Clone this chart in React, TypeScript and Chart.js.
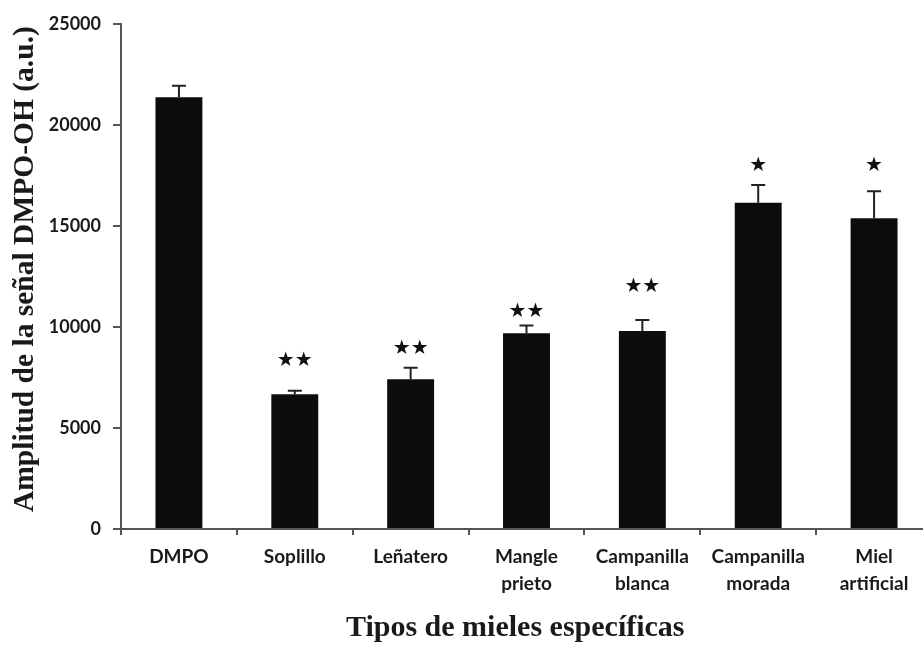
import React, { useEffect, useRef } from "react";
import { Chart, registerables } from "chart.js";

Chart.register(...registerables);

const categories = ["DMPO", "Soplillo", "Leñatero", "Mangle prieto", "Campanilla blanca", "Campanilla morada", "Miel artificial"];
const values = [21370, 6670, 7410, 9690, 9800, 16150, 15380];
const errors = [575, 180, 575, 380, 545, 875, 1340];
const sigMarks = ["", "★★", "★★", "★★", "★★", "★", "★"];
const sigY = [0, 8320, 8910, 10740, 11980, 17970, 17970];
const yTicks = [0, 5000, 10000, 15000, 20000, 25000];

const AXIS_COLOR = "#555555";
const TEXT_COLOR = "#1a1a1a";

const errorBarPlugin = {
  id: "errorBars",
  afterDatasetsDraw(chart: any) {
    const meta = chart.getDatasetMeta(0);
    const y = chart.scales.y;
    const ctx = chart.ctx;
    ctx.save();
    ctx.strokeStyle = "#222222";
    ctx.lineWidth = 2;
    meta.data.forEach((bar: any, i: number) => {
      const x = bar.x;
      const top = y.getPixelForValue(values[i]);
      const et = y.getPixelForValue(values[i] + errors[i]);
      ctx.beginPath();
      ctx.moveTo(x, top);
      ctx.lineTo(x, et);
      ctx.moveTo(x - 7, et);
      ctx.lineTo(x + 7, et);
      ctx.stroke();
      if (sigMarks[i]) {
        ctx.fillStyle = "#111111";
        ctx.font = "20px 'DejaVu Sans'";
        ctx.textAlign = "center";
        ctx.textBaseline = "middle";
        ctx.fillText(sigMarks[i], x, y.getPixelForValue(sigY[i]));
      }
    });
    ctx.restore();
  },
};

export default function App() {
  const ref = useRef<HTMLCanvasElement>(null);
  useEffect(() => {
    document.body.style.margin = "0";
    document.body.style.overflow = "hidden";
    const chart = new Chart(ref.current!, {
      type: "bar",
      data: {
        labels: categories.map((c) => c.split(" ")),
        datasets: [
          {
            data: values,
            backgroundColor: "#0c0c0c",
            borderWidth: 0,
            categoryPercentage: 1,
            barPercentage: 0.405,
          },
        ],
      },
      options: {
        animation: false,
        responsive: false,
        maintainAspectRatio: false,
        layout: { padding: { top: 24, right: 0, left: 0, bottom: 0 } },
        plugins: { legend: { display: false }, tooltip: { enabled: false } },
        scales: {
          x: {
            offset: true,
            grid: { display: true, drawOnChartArea: false, offset: true, tickLength: 6, color: AXIS_COLOR, lineWidth: 2 },
            border: { display: true, color: AXIS_COLOR, width: 2 },
            ticks: {
              color: TEXT_COLOR,
              font: { family: "Lato", weight: "bold", size: 19, lineHeight: 1.4 },
              padding: 9,
              maxRotation: 0,
              autoSkip: false,
            },
            title: {
              display: true,
              text: "Tipos de mieles específicas\u00a0\u00a0\u00a0",
              color: TEXT_COLOR,
              font: { family: "Liberation Serif", weight: "bold", size: 30 },
              padding: { top: 0, bottom: 2 },
            },
            afterFit(scale: any) {
              scale.height = 119;
            },
          },
          y: {
            min: 0,
            max: 25000,
            afterBuildTicks(scale: any) {
              scale.ticks = yTicks.map((v) => ({ value: v }));
            },
            grid: { display: true, drawOnChartArea: false, tickLength: 8, color: AXIS_COLOR, lineWidth: 2 },
            border: { display: true, color: AXIS_COLOR, width: 2 },
            ticks: {
              color: TEXT_COLOR,
              font: { family: "Lato", weight: "bold", size: 18 },
              padding: 12,
              callback: (v: any) => String(v),
            },
            title: {
              display: true,
              text: "\u00a0\u00a0Amplitud de la señal DMPO-OH (a.u.)",
              color: TEXT_COLOR,
              font: { family: "Liberation Serif", weight: "bold", size: 29.5 },
              padding: { top: 8, bottom: 0 },
            },
            afterFit(scale: any) {
              scale.width = 121;
            },
          },
        },
      },
      plugins: [errorBarPlugin],
    });
    return () => chart.destroy();
  }, []);
  return (
    <div style={{ position: "fixed", left: 0, top: 0, width: 932, height: 648 }}>
      <canvas ref={ref} width={932} height={648} style={{ width: 932, height: 648 }} />
    </div>
  );
}
